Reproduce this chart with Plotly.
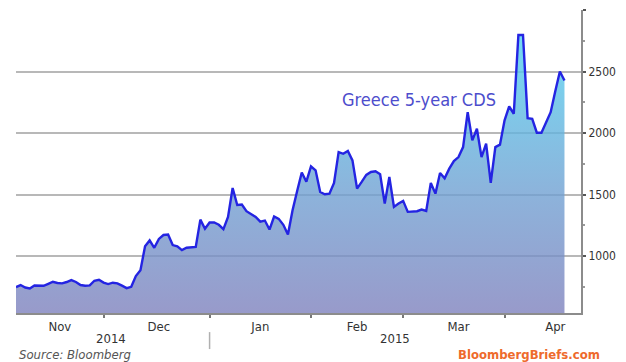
import pandas as pd
import plotly.graph_objects as go

# Greece 5-year CDS, basis points, one value per business day
start_date = "2014-11-04"
end_date = "2015-04-20"
cds_values = [
    # Nov 2014
    748, 765, 745, 738, 762, 760, 759, 775, 792, 782,
    779, 790, 805, 790, 765, 760, 762, 800, 808,
    # Dec 2014
    785, 773, 784, 779, 760, 740, 751, 838, 886, 1080,
    1128, 1068, 1140, 1172, 1176, 1090, 1080, 1049, 1068, 1072,
    1075, 1297, 1222,
    # Jan 2015
    1273, 1273, 1255, 1220, 1319, 1554, 1416, 1420, 1365, 1340,
    1319, 1280, 1289, 1216, 1322, 1303, 1255, 1176, 1373, 1530,
    1680, 1605,
    # Feb 2015
    1730, 1697, 1521, 1503, 1508, 1595, 1846, 1832, 1854, 1778,
    1549, 1603, 1660, 1684, 1689, 1665, 1427, 1643, 1400, 1427,
    # Mar 2015
    1449, 1360, 1360, 1365, 1378, 1367, 1595, 1508, 1676, 1632,
    1711, 1773, 1805, 1886, 2170, 1941, 2035, 1805, 1914, 1595,
    1886, 1906,
    # Apr 2015
    2103, 2216, 2157, 2797, 2797, 2121, 2116, 2003, 2003, 2080,
    2170, 2340, 2500, 2427,
]
dates = pd.bdate_range(start_date, end_date)
assert len(dates) == len(cds_values)

month_label_dates = ["2014-11-17 12:00", "2014-12-17", "2015-01-16",
                     "2015-02-16", "2015-03-18", "2015-04-16"]
month_labels = ["Nov", "Dec", "Jan", "Feb", "Mar", "Apr"]
month_starts = ["2014-12-01", "2015-01-01", "2015-02-02", "2015-03-02", "2015-04-01"]
y_ticks = [1000, 1500, 2000, 2500, 3000]
y_tick_text = ["1000", "1500", "2000", "2500", ""]

FONT = "DejaVu Sans Condensed, Liberation Sans Narrow, DejaVu Sans, sans-serif"

fig = go.Figure()
fig.add_trace(go.Scatter(
    x=dates, y=cds_values, mode="lines",
    line=dict(color="#2424e2", width=2.4),
    fill="tozeroy",
    fillgradient=dict(
        type="vertical", start=540, stop=2850,
        colorscale=[[0.0, "rgba(126,129,189,0.8)"],
                    [0.42, "rgba(112,160,210,0.8)"],
                    [1.0, "rgba(78,212,242,0.8)"]],
    ),
    hoverinfo="x+y",
))

fig.update_layout(
    width=626, height=362,
    margin=dict(l=16, r=40, t=10, b=49),
    paper_bgcolor="white", plot_bgcolor="white",
    showlegend=False,
    font=dict(family=FONT, color="#333333"),
    xaxis=dict(
        type="date",
        range=["2014-11-04", "2015-04-23 14:00"],
        rangebreaks=[dict(bounds=["sat", "mon"])],
        tickmode="array", tickvals=month_label_dates, ticktext=month_labels,
        ticks="", showgrid=False, zeroline=False,
        showline=True, linecolor="#8c8c8c", linewidth=2,
        tickfont=dict(size=13, color="#333333"),
        minor=dict(tickmode="array", tickvals=month_starts, ticks="outside",
                   ticklen=3, tickwidth=1.5, tickcolor="#777777", showgrid=False),
        fixedrange=True,
    ),
    yaxis=dict(
        side="right", range=[538, 3000],
        tickmode="array", tickvals=y_ticks, ticktext=y_tick_text,
        ticks="outside", ticklen=3, tickwidth=2, tickcolor="#555555",
        showgrid=True, gridcolor="#b8b8b8", gridwidth=2,
        zeroline=False,
        showline=True, linecolor="#8c8c8c", linewidth=2,
        tickfont=dict(size=12, color="#333333"),
        minor=dict(dtick=250, ticks="outside", ticklen=2, tickcolor="#999999",
                   showgrid=False),
        fixedrange=True,
    ),
)

fig.add_annotation(
    x=0.714, y=0.706, xref="paper", yref="paper",
    xanchor="center", yanchor="middle",
    text="Greece 5-year CDS", showarrow=False,
    font=dict(family=FONT, size=18, color="#4d4dcc"),
)
fig.add_annotation(
    x=0.169, y=-0.085, xref="paper", yref="paper",
    xanchor="center", yanchor="middle", text="2014",
    showarrow=False, font=dict(family=FONT, size=13, color="#333333"),
)
fig.add_annotation(
    x=0.671, y=-0.085, xref="paper", yref="paper",
    xanchor="center", yanchor="middle", text="2015",
    showarrow=False, font=dict(family=FONT, size=13, color="#333333"),
)
fig.add_shape(
    type="line", xref="x", yref="paper",
    x0="2015-01-01", x1="2015-01-01", y0=-0.063, y1=-0.119,
    line=dict(color="#b0b0b0", width=1.5),
)
fig.add_annotation(
    x=0.002, y=-0.138, xref="paper", yref="paper",
    xanchor="left", yanchor="middle",
    text="<i>Source: Bloomberg</i>", showarrow=False,
    font=dict(family=FONT, size=13, color="#555555"),
)
fig.add_annotation(
    x=1.037, y=-0.136, xref="paper", yref="paper",
    xanchor="right", yanchor="middle",
    text="<b>BloombergBriefs.com</b>", showarrow=False,
    font=dict(family=FONT, size=13, color="#ee6a2c"),
)

fig.write_html("out.html")
